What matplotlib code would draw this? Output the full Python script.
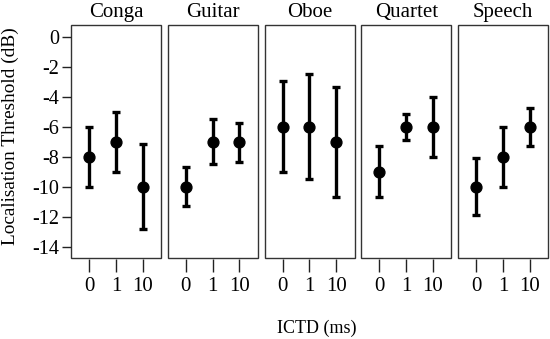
import matplotlib
matplotlib.use("Agg")
import matplotlib.pyplot as plt
from matplotlib.patches import Rectangle

plt.rcParams['font.family'] = ['Liberation Serif', 'DejaVu Serif']

stimuli = ["Conga", "Guitar", "Oboe", "Quartet", "Speech"]
ictd_labels = ["0", "1", "10"]
means = {
    "Conga":   [-8.0, -7.0, -10.0],
    "Guitar":  [-10.0, -7.0, -7.0],
    "Oboe":    [-6.0, -6.0, -7.0],
    "Quartet": [-9.0, -6.0, -6.0],
    "Speech":  [-10.0, -8.0, -6.0],
}
upper = {
    "Conga":   [-6.0, -5.0, -7.15],
    "Guitar":  [-8.7, -5.45, -5.7],
    "Oboe":    [-2.95, -2.45, -3.3],
    "Quartet": [-7.25, -5.1, -4.0],
    "Speech":  [-8.1, -6.0, -4.7],
}
lower = {
    "Conga":   [-10.0, -9.0, -12.8],
    "Guitar":  [-11.3, -8.5, -8.35],
    "Oboe":    [-9.0, -9.5, -10.7],
    "Quartet": [-10.7, -6.9, -8.0],
    "Speech":  [-11.9, -10.0, -7.25],
}
yticks = [0, -2, -4, -6, -8, -10, -12, -14]

W, H = 550, 339
fig = plt.figure(figsize=(W / 100, H / 100), dpi=100)

left0, pw, gap = 71, 90, 6.75
top, bottom = 25, 258
for i, s in enumerate(stimuli):
    x0 = left0 + i * (pw + gap)
    ax = fig.add_axes([x0 / W, 1 - bottom / H, pw / W, (bottom - top) / H])
    xs = list(range(len(ictd_labels)))
    m = means[s]
    lo = [m[j] - lower[s][j] for j in xs]
    hi = [upper[s][j] - m[j] for j in xs]
    ax.errorbar(xs, m, yerr=[lo, hi], fmt='o', color='black', ecolor='black',
                elinewidth=2.4, capsize=3, capthick=2.4, markersize=7.8)
    ax.set_xlim(-0.67, 2.68)
    ax.set_ylim(-14.76, 0.82)
    for sp in ax.spines.values():
        sp.set_visible(False)
    ax.spines['bottom'].set_position(('outward', 1))
    ax.add_patch(Rectangle((0, 0), 1, 1, transform=ax.transAxes, fill=False,
                           edgecolor='#333333', linewidth=1.0, clip_on=False))
    ax.set_xticks(xs)
    ax.set_xticklabels(ictd_labels, fontsize=15)
    ax.tick_params(axis='x', direction='out', length=9.5, width=1.0, pad=3.5, colors='#222222', labelcolor='black')
    if i == 0:
        ax.set_yticks(yticks)
        ax.set_yticklabels([str(v) for v in yticks], fontsize=14.5)
        ax.tick_params(axis='y', direction='out', length=6.5, width=1.0, pad=2, colors='#222222', labelcolor='black')
    else:
        ax.set_yticks([])
    fig.text((x0 + pw / 2) / W, 1 - 17 / H, s, fontsize=15, ha='center', va='baseline')

fig.text(316.7 / W, 1 - 328 / H, "ICTD (ms)", ha='center', va='center', fontsize=13)
fig.text(10 / W, 1 - 136.5 / H, "Localisation Threshold (dB)", ha='center', va='center',
         rotation=90, fontsize=13.9)

fig.savefig("out.png", dpi=100)
